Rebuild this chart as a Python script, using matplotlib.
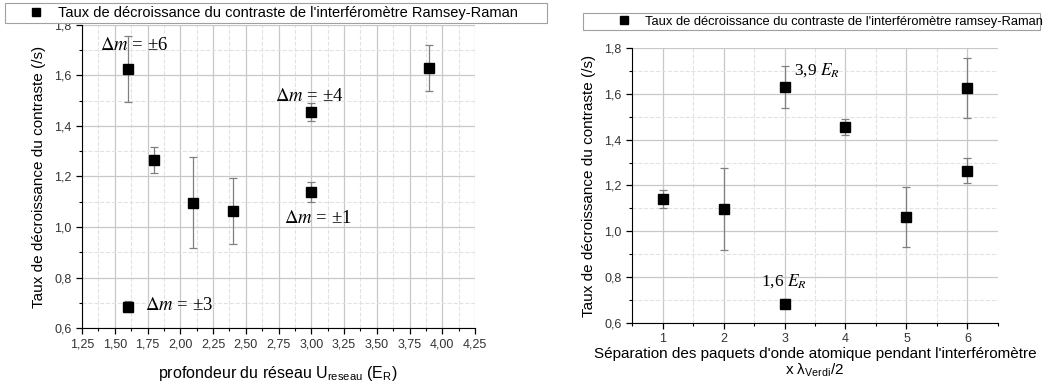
import matplotlib
matplotlib.use("Agg")
import matplotlib.pyplot as plt
from matplotlib.ticker import MultipleLocator, FuncFormatter
from matplotlib.lines import Line2D

plt.rcParams['font.family'] = ['Liberation Sans', 'DejaVu Sans']
plt.rcParams['mathtext.fontset'] = 'stix'

# Left chart: lattice depth vs contrast decay rate
depth = [1.6, 1.6, 1.8, 2.1, 2.4, 3.0, 3.0, 3.9]
rate_left = [1.625, 0.685, 1.265, 1.097, 1.063, 1.455, 1.14, 1.63]
err_left = [0.13, 0.02, 0.053, 0.18, 0.13, 0.035, 0.04, 0.092]

# Right chart: separation vs contrast decay rate
separation = [1, 2, 3, 3, 4, 5, 6, 6]
rate_right = [1.14, 1.097, 1.63, 0.685, 1.455, 1.063, 1.625, 1.265]
err_right = [0.04, 0.18, 0.092, 0.02, 0.035, 0.13, 0.13, 0.053]

left_annotations = [(1.39, 1.72, "±6"), (2.72, 1.515, "±4"), (2.79, 1.032, "±1"), (1.73, 0.69, "±3")]
right_annotations = [(3.15, 1.704, "3,9"), (2.62, 0.782, "1,6")]

legend_left = "Taux de décroissance du contraste de l'interféromètre Ramsey-Raman"
legend_right = "Taux de décroissance du contraste de l'interféromètre ramsey-Raman"
ylabel = "Taux de décroissance du contraste (/s)"

W, H = 1047, 385
fig = plt.figure(figsize=(W/100, H/100), dpi=100)
ax1 = fig.add_axes([82/W, 57/H, 393/W, 303/H])
ax2 = fig.add_axes([632/W, 62/H, 366/W, 275/H])


def style(ax):
    for s in ['top', 'right']:
        ax.spines[s].set_visible(False)
    ax.grid(which='major', color='#c8c8c8', lw=0.9, ls='-')
    ax.grid(which='minor', color='#e2e2e2', lw=0.8, ls='--')
    ax.set_axisbelow(True)
    ax.tick_params(which='major', direction='out', length=4, width=0.9, labelsize=9,
                   colors='black', labelcolor='#333333')
    ax.tick_params(which='minor', direction='out', length=2, width=0.8)
    ax.set_ylim(0.6, 1.8)
    ax.yaxis.set_major_locator(MultipleLocator(0.2))
    ax.yaxis.set_minor_locator(MultipleLocator(0.1))
    ax.yaxis.set_major_formatter(FuncFormatter(lambda v, p: f"{v:.1f}".replace('.', ',')))
    ax.set_ylabel(ylabel, fontsize=11, labelpad=6)


style(ax1)
style(ax2)

ekw = dict(fmt='s', color='black', ms=7, ecolor='#808080', elinewidth=0.9, capsize=3, capthick=0.9)

ax1.errorbar(depth, rate_left, yerr=err_left, **ekw)
ax1.set_xlim(1.25, 4.25)
ax1.xaxis.set_major_locator(MultipleLocator(0.25))
ax1.xaxis.set_minor_locator(MultipleLocator(0.125))
ax1.xaxis.set_major_formatter(FuncFormatter(lambda v, p: f"{v:.2f}".replace('.', ',')))
ax1.set_xlabel(r"profondeur du réseau U$_{\mathregular{reseau}}$ (E$_{\mathregular{R}}$)", fontsize=11.5, labelpad=10)
for x, y, t in left_annotations:
    ax1.text(x, y, r"$\Delta m$ = " + t, fontsize=13.5, family='Liberation Serif', va='center', ha='left')

ax2.errorbar(separation, rate_right, yerr=err_right, **ekw)
ax2.set_xlim(0.5, 6.5)
ax2.xaxis.set_major_locator(MultipleLocator(1))
ax2.xaxis.set_minor_locator(MultipleLocator(0.5))
ax2.xaxis.set_major_formatter(FuncFormatter(lambda v, p: f"{v:.0f}"))
ax2.set_xlabel("Séparation des paquets d'onde atomique pendant l'interféromètre\n" + r"x λ$_{\mathregular{Verdi}}$/2",
               fontsize=11, labelpad=1, linespacing=1.1)
for x, y, t in right_annotations:
    ax2.text(x, y, t + r" $E_R$", fontsize=12.5, family='Liberation Serif', va='center', ha='left')

handle = Line2D([], [], marker='s', color='black', ls='none', ms=6)
specs = [
    (legend_left, (5, 3, 547, 22), 10.5, 3.8, -0.35),
    (legend_right, (583, 13, 1040, 32), 9.3, 6.0, -1.4),
]
for label, box, fs, hl, tp in specs:
    x0, y0, x1, y1 = box
    leg = fig.legend([handle], [label], loc='upper left',
                     bbox_to_anchor=(x0/W, 1 - y1/H, (x1-x0)/W, (y1-y0)/H),
                     mode='expand', fontsize=fs, frameon=True, fancybox=False,
                     edgecolor='#a0a0a0', borderpad=0.2, handlelength=hl,
                     handletextpad=tp, borderaxespad=0, framealpha=1)
    leg.get_frame().set_linewidth(0.8)

fig.savefig("out.png", dpi=100)
